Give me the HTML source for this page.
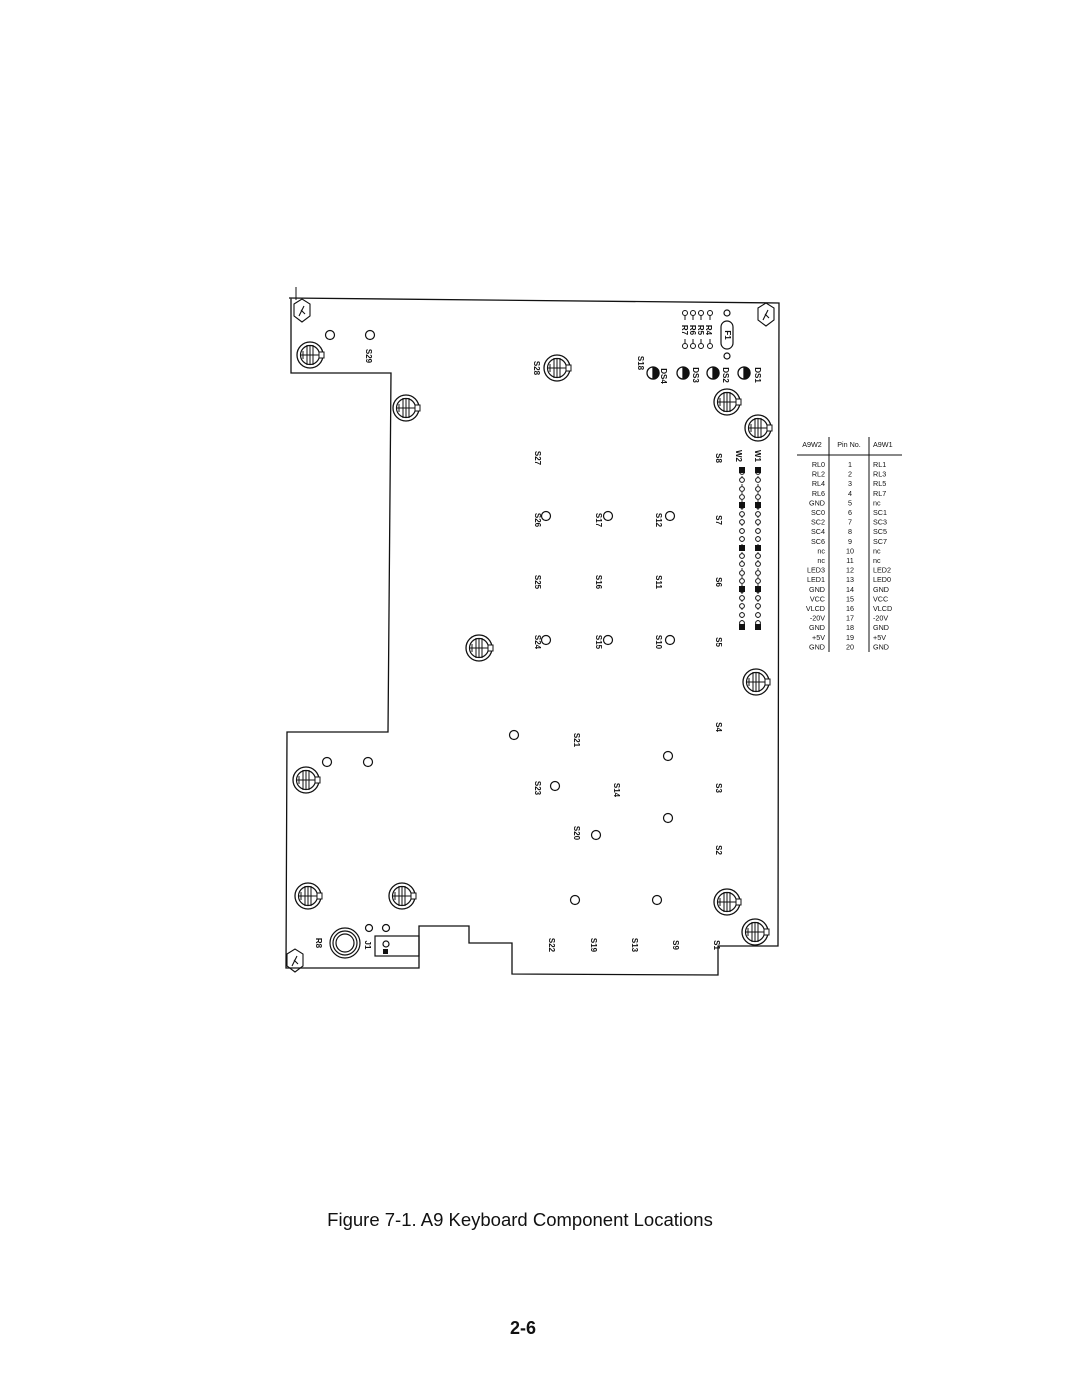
<!DOCTYPE html>
<html><head><meta charset="utf-8"><style>
html,body{margin:0;padding:0;background:#fff;}
svg{display:block}
text{font-family:"Liberation Sans",sans-serif;fill:#111}
.l{font-size:8px;font-weight:bold}
.t{font-size:7.2px;font-family:"Liberation Sans",sans-serif}
</style></head><body>
<svg width="1080" height="1397" viewBox="0 0 1080 1397" xmlns="http://www.w3.org/2000/svg">
<defs>
<g id="m" fill="none" stroke="#111">
<circle r="13" stroke-width="1.3"/><circle r="9.5" stroke-width="1.2"/>
<line x1="-3" y1="-10" x2="-3" y2="10"/><line x1="3" y1="-10" x2="3" y2="10"/><line x1="0" y1="-10" x2="0" y2="10"/>
<line x1="-9" y1="0" x2="9" y2="0"/><path d="M-7 -4 L-7 4"/>
<rect x="9" y="-3" width="5" height="6" fill="#fff"/>
</g>
<g id="d" fill="none" stroke="#111" stroke-width="1.3">
<circle r="6"/><path d="M0 -6 A6 6 0 0 1 0 6 Z" fill="#111"/>
</g>
<g id="f" fill="none" stroke="#111" stroke-width="1.1">
<path d="M-8 -8 L0 -13 L8 -8 L8 4 L0 10 L-8 4 Z"/><path d="M-3 4 L2 -6 M-1 -2 L3 2"/>
</g>
</defs>
<line x1="296" y1="287" x2="296" y2="300" stroke="#111"/>
<path d="M289 298 L779 303 L778 946 L718 946 L718 975 L512 974 L512 943 L469 943 L469 926 L419 926 L419 968 L286 968 L287 732 L388 732 L391 373 L291 373 L291 298" fill="none" stroke="#111" stroke-width="1.3"/>
<use href="#f" x="302" y="312"/><use href="#f" x="766" y="316"/><use href="#f" x="295" y="962"/>
<g fill="none" stroke="#111" stroke-width="1.2">
<circle cx="330" cy="335" r="4.5"/><circle cx="370" cy="335" r="4.5"/>
<circle cx="727" cy="313" r="3"/><circle cx="727" cy="356" r="3"/>
<rect x="721" y="321" width="12" height="28" rx="6"/>
<circle cx="546" cy="516" r="4.5"/><circle cx="608" cy="516" r="4.5"/><circle cx="670" cy="516" r="4.5"/>
<circle cx="546" cy="640" r="4.5"/><circle cx="608" cy="640" r="4.5"/><circle cx="670" cy="640" r="4.5"/>
<circle cx="514" cy="735" r="4.5"/><circle cx="668" cy="756" r="4.5"/><circle cx="555" cy="786" r="4.5"/>
<circle cx="668" cy="818" r="4.5"/><circle cx="596" cy="835" r="4.5"/>
<circle cx="575" cy="900" r="4.5"/><circle cx="657" cy="900" r="4.5"/>
<circle cx="327" cy="762" r="4.5"/><circle cx="368" cy="762" r="4.5"/>
<circle cx="369" cy="928" r="3.5"/><circle cx="386" cy="928" r="3.5"/>
<circle cx="386" cy="944" r="3"/>
<rect x="375" y="936" width="44" height="20"/>
<circle cx="345" cy="943" r="15"/><circle cx="345" cy="943" r="12"/><circle cx="345" cy="943" r="9"/>
</g>
<rect x="383" y="949" width="5" height="5" fill="#111"/>
<g stroke="#111" fill="none" stroke-width="1">
<circle cx="685" cy="313" r="2.5"/><circle cx="693" cy="313" r="2.5"/><circle cx="701" cy="313" r="2.5"/><circle cx="710" cy="313" r="2.5"/>
<circle cx="685" cy="346" r="2.5"/><circle cx="693" cy="346" r="2.5"/><circle cx="701" cy="346" r="2.5"/><circle cx="710" cy="346" r="2.5"/>
<path d="M685 316v4M693 316v4M701 316v4M710 316v4M685 343v-4M693 343v-4M701 343v-4M710 343v-4"/>
</g>
<use href="#d" x="653" y="373"/><use href="#d" x="683" y="373"/><use href="#d" x="713" y="373"/><use href="#d" x="744" y="373"/>
<use href="#m" x="310" y="355"/><use href="#m" x="406" y="408"/><use href="#m" x="557" y="368"/>
<use href="#m" x="727" y="402"/><use href="#m" x="758" y="428"/><use href="#m" x="479" y="648"/>
<use href="#m" x="756" y="682"/><use href="#m" x="306" y="780"/><use href="#m" x="308" y="896"/>
<use href="#m" x="402" y="896"/><use href="#m" x="727" y="902"/><use href="#m" x="755" y="932"/>
<g fill="none" stroke="#111" stroke-width="0.9">
<path d="M742 468 V628 M758 468 V628" stroke-dasharray="2 2"/>
</g>
<g fill="#fff" stroke="#111" stroke-width="1">
<circle cx="742" cy="472" r="2.4"/><circle cx="742" cy="480" r="2.4"/><circle cx="742" cy="489" r="2.4"/><circle cx="742" cy="497" r="2.4"/><circle cx="742" cy="506" r="2.4"/><circle cx="742" cy="514" r="2.4"/><circle cx="742" cy="522" r="2.4"/><circle cx="742" cy="531" r="2.4"/><circle cx="742" cy="539" r="2.4"/><circle cx="742" cy="548" r="2.4"/><circle cx="742" cy="556" r="2.4"/><circle cx="742" cy="564" r="2.4"/><circle cx="742" cy="573" r="2.4"/><circle cx="742" cy="581" r="2.4"/><circle cx="742" cy="590" r="2.4"/><circle cx="742" cy="598" r="2.4"/><circle cx="742" cy="606" r="2.4"/><circle cx="742" cy="615" r="2.4"/><circle cx="742" cy="623" r="2.4"/>
<circle cx="758" cy="472" r="2.4"/><circle cx="758" cy="480" r="2.4"/><circle cx="758" cy="489" r="2.4"/><circle cx="758" cy="497" r="2.4"/><circle cx="758" cy="506" r="2.4"/><circle cx="758" cy="514" r="2.4"/><circle cx="758" cy="522" r="2.4"/><circle cx="758" cy="531" r="2.4"/><circle cx="758" cy="539" r="2.4"/><circle cx="758" cy="548" r="2.4"/><circle cx="758" cy="556" r="2.4"/><circle cx="758" cy="564" r="2.4"/><circle cx="758" cy="573" r="2.4"/><circle cx="758" cy="581" r="2.4"/><circle cx="758" cy="590" r="2.4"/><circle cx="758" cy="598" r="2.4"/><circle cx="758" cy="606" r="2.4"/><circle cx="758" cy="615" r="2.4"/><circle cx="758" cy="623" r="2.4"/>
</g>
<g fill="#111">
<rect x="739" y="467" width="6" height="6"/><rect x="755" y="467" width="6" height="6"/>
<rect x="739" y="502" width="6" height="6"/><rect x="755" y="502" width="6" height="6"/>
<rect x="739" y="545" width="6" height="6"/><rect x="755" y="545" width="6" height="6"/>
<rect x="739" y="586" width="6" height="6"/><rect x="755" y="586" width="6" height="6"/>
<rect x="739" y="624" width="6" height="6"/><rect x="755" y="624" width="6" height="6"/>
</g>
<g class="l" text-anchor="middle">
<text transform="translate(366,356) rotate(90)">S29</text>
<text transform="translate(534,368) rotate(90)">S28</text>
<text transform="translate(638,363) rotate(90)">S18</text>
<text transform="translate(661,376) rotate(90)">DS4</text>
<text transform="translate(693,375) rotate(90)">DS3</text>
<text transform="translate(723,375) rotate(90)">DS2</text>
<text transform="translate(755,375) rotate(90)">DS1</text>
<text transform="translate(682,330) rotate(90)">R7</text>
<text transform="translate(690,330) rotate(90)">R6</text>
<text transform="translate(698,330) rotate(90)">R5</text>
<text transform="translate(706,330) rotate(90)">R4</text>
<text transform="translate(725,335) rotate(90)">F1</text>
<text transform="translate(736,456) rotate(90)">W2</text>
<text transform="translate(755,456) rotate(90)">W1</text>
<text transform="translate(535,458) rotate(90)">S27</text>
<text transform="translate(535,520) rotate(90)">S26</text>
<text transform="translate(535,582) rotate(90)">S25</text>
<text transform="translate(535,642) rotate(90)">S24</text>
<text transform="translate(535,788) rotate(90)">S23</text>
<text transform="translate(549,945) rotate(90)">S22</text>
<text transform="translate(596,520) rotate(90)">S17</text>
<text transform="translate(596,582) rotate(90)">S16</text>
<text transform="translate(596,642) rotate(90)">S15</text>
<text transform="translate(574,740) rotate(90)">S21</text>
<text transform="translate(614,790) rotate(90)">S14</text>
<text transform="translate(574,833) rotate(90)">S20</text>
<text transform="translate(591,945) rotate(90)">S19</text>
<text transform="translate(656,520) rotate(90)">S12</text>
<text transform="translate(656,582) rotate(90)">S11</text>
<text transform="translate(656,642) rotate(90)">S10</text>
<text transform="translate(632,945) rotate(90)">S13</text>
<text transform="translate(673,945) rotate(90)">S9</text>
<text transform="translate(716,458) rotate(90)">S8</text>
<text transform="translate(716,520) rotate(90)">S7</text>
<text transform="translate(716,582) rotate(90)">S6</text>
<text transform="translate(716,642) rotate(90)">S5</text>
<text transform="translate(716,727) rotate(90)">S4</text>
<text transform="translate(716,788) rotate(90)">S3</text>
<text transform="translate(716,850) rotate(90)">S2</text>
<text transform="translate(714,945) rotate(90)">S1</text>
<text transform="translate(316,943) rotate(90)">R8</text>
<text transform="translate(365,945) rotate(90)">J1</text>
</g>
<g stroke="#111" stroke-width="1">
<line x1="797" y1="455" x2="902" y2="455"/>
<line x1="829" y1="437" x2="829" y2="652"/>
<line x1="869" y1="437" x2="869" y2="652"/>
</g>
<g class="t">
<text x="812" y="447" text-anchor="middle">A9W2</text>
<text x="849" y="447" text-anchor="middle">Pin No.</text>
<text x="873" y="447">A9W1</text>
</g>
<g class="t">
<g text-anchor="end">
<text x="825" y="467">RL0</text><text x="825" y="476.6">RL2</text><text x="825" y="486.2">RL4</text><text x="825" y="495.8">RL6</text><text x="825" y="505.4">GND</text><text x="825" y="515">SC0</text><text x="825" y="524.6">SC2</text><text x="825" y="534.2">SC4</text><text x="825" y="543.8">SC6</text><text x="825" y="553.4">nc</text><text x="825" y="563">nc</text><text x="825" y="572.6">LED3</text><text x="825" y="582.2">LED1</text><text x="825" y="591.8">GND</text><text x="825" y="601.4">VCC</text><text x="825" y="611">VLCD</text><text x="825" y="620.6">-20V</text><text x="825" y="630.2">GND</text><text x="825" y="639.8">+5V</text><text x="825" y="649.4">GND</text>
</g>
<g text-anchor="middle">
<text x="850" y="467">1</text><text x="850" y="476.6">2</text><text x="850" y="486.2">3</text><text x="850" y="495.8">4</text><text x="850" y="505.4">5</text><text x="850" y="515">6</text><text x="850" y="524.6">7</text><text x="850" y="534.2">8</text><text x="850" y="543.8">9</text><text x="850" y="553.4">10</text><text x="850" y="563">11</text><text x="850" y="572.6">12</text><text x="850" y="582.2">13</text><text x="850" y="591.8">14</text><text x="850" y="601.4">15</text><text x="850" y="611">16</text><text x="850" y="620.6">17</text><text x="850" y="630.2">18</text><text x="850" y="639.8">19</text><text x="850" y="649.4">20</text>
</g>
<g>
<text x="873" y="467">RL1</text><text x="873" y="476.6">RL3</text><text x="873" y="486.2">RL5</text><text x="873" y="495.8">RL7</text><text x="873" y="505.4">nc</text><text x="873" y="515">SC1</text><text x="873" y="524.6">SC3</text><text x="873" y="534.2">SC5</text><text x="873" y="543.8">SC7</text><text x="873" y="553.4">nc</text><text x="873" y="563">nc</text><text x="873" y="572.6">LED2</text><text x="873" y="582.2">LED0</text><text x="873" y="591.8">GND</text><text x="873" y="601.4">VCC</text><text x="873" y="611">VLCD</text><text x="873" y="620.6">-20V</text><text x="873" y="630.2">GND</text><text x="873" y="639.8">+5V</text><text x="873" y="649.4">GND</text>
</g>
</g>
<text x="520" y="1226" text-anchor="middle" font-size="18.5">Figure 7-1. A9 Keyboard Component Locations</text>
<text x="523" y="1334" text-anchor="middle" font-size="18" font-weight="bold">2-6</text>
</svg>
</body></html>
